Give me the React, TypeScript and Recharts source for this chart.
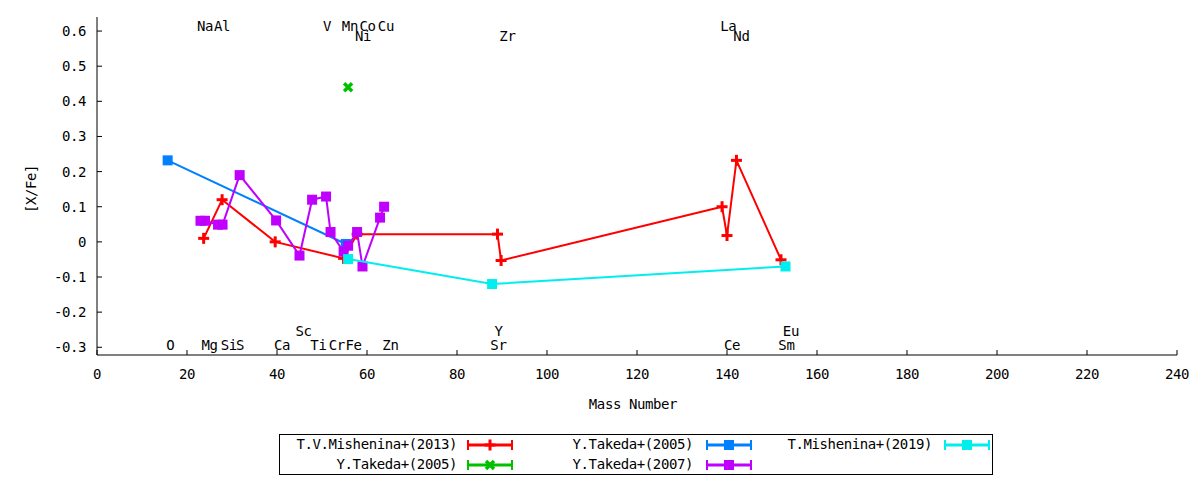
import { ComposedChart, Scatter, XAxis, YAxis } from 'recharts';

const FONT = '"DejaVu Sans Mono", monospace';
const FS = 14;
const LS = '-0.4px';

const xTicks = [0, 20, 40, 60, 80, 100, 120, 140, 160, 180, 200, 220, 240];
const yTicks = [-0.3, -0.2, -0.1, 0, 0.1, 0.2, 0.3, 0.4, 0.5, 0.6];

// [mass number, [X/Fe]]
const mishenina2013 = [
  { x: 23.7, y: 0.01 },
  { x: 27.8, y: 0.12 },
  { x: 39.6, y: 0.0 },
  { x: 54.8, y: -0.047 },
  { x: 57.8, y: 0.022 },
  { x: 89.0, y: 0.022 },
  { x: 89.8, y: -0.053 },
  { x: 138.9, y: 0.1 },
  { x: 140.0, y: 0.018 },
  { x: 142.1, y: 0.232 },
  { x: 152.0, y: -0.051 },
];
const takeda2005a = [{ x: 55.8, y: 0.44 }];
const takeda2005b = [
  { x: 15.7, y: 0.232 },
  { x: 55.3, y: -0.006 },
];
const takeda2007 = [
  { x: 23.0, y: 0.06 },
  { x: 24.0, y: 0.06 },
  { x: 26.9, y: 0.049 },
  { x: 27.9, y: 0.049 },
  { x: 31.7, y: 0.19 },
  { x: 39.8, y: 0.061 },
  { x: 45.0, y: -0.039 },
  { x: 47.8, y: 0.12 },
  { x: 50.9, y: 0.129 },
  { x: 51.9, y: 0.028 },
  { x: 54.8, y: -0.028 },
  { x: 55.8, y: -0.011 },
  { x: 57.8, y: 0.028 },
  { x: 59.0, y: -0.07 },
  { x: 62.9, y: 0.069 },
  { x: 63.8, y: 0.1 },
];
const mishenina2019 = [
  { x: 55.8, y: -0.049 },
  { x: 87.8, y: -0.12 },
  { x: 153.0, y: -0.07 },
];

const elementLabels = [
  { name: 'Na', x: 24.0, y: 0.615 },
  { name: 'Al', x: 27.8, y: 0.615 },
  { name: 'V', x: 51.1, y: 0.615 },
  { name: 'Mn', x: 56.2, y: 0.615 },
  { name: 'Co', x: 60.1, y: 0.615 },
  { name: 'Cu', x: 64.2, y: 0.615 },
  { name: 'La', x: 140.3, y: 0.615 },
  { name: 'Ni', x: 59.1, y: 0.585 },
  { name: 'Zr', x: 91.2, y: 0.585 },
  { name: 'Nd', x: 143.2, y: 0.585 },
  { name: 'Sc', x: 45.9, y: -0.254 },
  { name: 'Y', x: 89.2, y: -0.254 },
  { name: 'Eu', x: 154.2, y: -0.254 },
  { name: 'O', x: 16.3, y: -0.293 },
  { name: 'Mg', x: 25.0, y: -0.293 },
  { name: 'Si', x: 29.3, y: -0.293 },
  { name: 'S', x: 31.8, y: -0.293 },
  { name: 'Ca', x: 41.1, y: -0.293 },
  { name: 'Ti', x: 49.2, y: -0.293 },
  { name: 'Cr', x: 53.3, y: -0.293 },
  { name: 'Fe', x: 57.0, y: -0.293 },
  { name: 'Zn', x: 65.2, y: -0.293 },
  { name: 'Sr', x: 89.2, y: -0.293 },
  { name: 'Ce', x: 141.1, y: -0.293 },
  { name: 'Sm', x: 153.2, y: -0.293 },
];

const RED = '#ff0000';
const GREEN = '#00c000';
const BLUE = '#0080ff';
const PURPLE = '#c000ff';
const CYAN = '#00eeee';

type Mark = 'plus' | 'cross' | 'square';

function marker(kind: Mark, cx: number, cy: number, color: string) {
  if (kind === 'plus')
    return (
      <g>
        <rect x={cx - 5.5} y={cy - 1.5} width={11} height={3} fill={color} />
        <rect x={cx - 1.5} y={cy - 5.5} width={3} height={11} fill={color} />
      </g>
    );
  if (kind === 'cross')
    return (
      <path
        d={`M${cx - 4},${cy - 4}L${cx + 4},${cy + 4}M${cx - 4},${cy + 4}L${cx + 4},${cy - 4}`}
        stroke={color}
        strokeWidth={3.5}
      />
    );
  return <rect x={cx - 5} y={cy - 5} width={10} height={10} fill={color} />;
}

const shapeOf = (kind: Mark, color: string) => (p: any) => marker(kind, p.cx, p.cy, color);

const series = [
  { name: 'T.V.Mishenina+(2013)', data: mishenina2013, color: RED, mark: 'plus' as Mark },
  { name: 'Y.Takeda+(2005)', data: takeda2005a, color: GREEN, mark: 'cross' as Mark },
  { name: 'Y.Takeda+(2005)', data: takeda2005b, color: BLUE, mark: 'square' as Mark },
  { name: 'Y.Takeda+(2007)', data: takeda2007, color: PURPLE, mark: 'square' as Mark },
  { name: 'T.Mishenina+(2019)', data: mishenina2019, color: CYAN, mark: 'square' as Mark },
];

const textStyle = { fill: '#000', fontSize: FS, fontFamily: FONT, letterSpacing: LS };

function LegendSample({ color, mark }: { color: string; mark: Mark }) {
  return (
    <svg width={46} height={12} style={{ display: 'block' }}>
      <line x1={1} y1={6} x2={45} y2={6} stroke={color} strokeWidth={3} />
      <line x1={1} y1={1} x2={1} y2={11} stroke={color} strokeWidth={2} />
      <line x1={45} y1={1} x2={45} y2={11} stroke={color} strokeWidth={2} />
      {marker(mark, 23, 6, color)}
    </svg>
  );
}

// column-major key, 2 rows
const legendCols = [
  { textRight: 179, sample: 187 },
  { textRight: 415, sample: 426 },
  { textRight: 654, sample: 664 },
];

export default function App() {
  return (
    <div style={{ position: 'relative', width: 1200, height: 480, background: '#fff' }}>
      <style>{'body{margin:0}'}</style>
      <ComposedChart width={1200} height={480} margin={{ top: 17, right: 23, bottom: 65, left: 0 }}>
        <XAxis
          type="number"
          dataKey="x"
          domain={[0, 240]}
          ticks={xTicks}
          allowDataOverflow
          height={60}
          stroke="#000"
          tickSize={-5}
          tickMargin={19}
          tick={textStyle}
          label={{
            value: 'Mass Number',
            position: 'insideBottom',
            offset: 6,
            dx: -4,
            style: textStyle,
          }}
        />
        <XAxis
          xAxisId="top"
          orientation="top"
          type="number"
          domain={[0, 240]}
          ticks={xTicks}
          allowDataOverflow
          height={0}
          stroke="#000"
          tickSize={-5}
          tick={false}
        />
        <YAxis
          type="number"
          dataKey="y"
          domain={[-0.322, 0.64]}
          ticks={yTicks}
          allowDataOverflow
          width={97}
          stroke="#000"
          tickSize={-5}
          tickMargin={16}
          tick={textStyle}
          tickFormatter={(v: number) => String(Math.round(v * 10) / 10)}
          label={{
            value: '[X/Fe]',
            angle: -90,
            position: 'insideLeft',
            offset: 31,
            dy: 3,
            style: { ...textStyle, textAnchor: 'middle' },
          }}
        />
        <YAxis
          yAxisId="right"
          orientation="right"
          type="number"
          domain={[-0.322, 0.64]}
          ticks={yTicks}
          allowDataOverflow
          width={0}
          stroke="#000"
          tickSize={-5}
          tick={false}
        />
        {series.map((s, i) => (
          <Scatter
            key={i}
            name={s.name}
            data={s.data}
            fill={s.color}
            line={s.data.length > 1 ? { stroke: s.color, strokeWidth: 2 } : false}
            lineType="joint"
            shape={shapeOf(s.mark, s.color)}
            isAnimationActive={false}
          />
        ))}
        <Scatter
          data={elementLabels}
          isAnimationActive={false}
          shape={(p: any) => (
            <text
              x={p.cx}
              y={p.cy}
              textAnchor="middle"
              dominantBaseline="central"
              style={textStyle}
            >
              {p.payload?.name ?? p.name}
            </text>
          )}
        />
      </ComposedChart>
      <div
        style={{
          position: 'absolute',
          left: 279,
          top: 434,
          width: 714,
          height: 41,
          border: '1px solid #000',
          boxSizing: 'border-box',
          fontFamily: FONT,
          fontSize: FS,
          letterSpacing: LS,
        }}
      >
        {series.map((s, i) => {
          const col = legendCols[Math.floor(i / 2)];
          const rowY = i % 2 === 0 ? 10 : 30;
          return (
            <div key={i}>
              <div
                style={{
                  position: 'absolute',
                  right: 714 - col.textRight,
                  top: rowY - 9,
                  lineHeight: '17px',
                  whiteSpace: 'nowrap',
                }}
              >
                {s.name}
              </div>
              <div style={{ position: 'absolute', left: col.sample, top: rowY - 6 }}>
                <LegendSample color={s.color} mark={s.mark} />
              </div>
            </div>
          );
        })}
      </div>
    </div>
  );
}
